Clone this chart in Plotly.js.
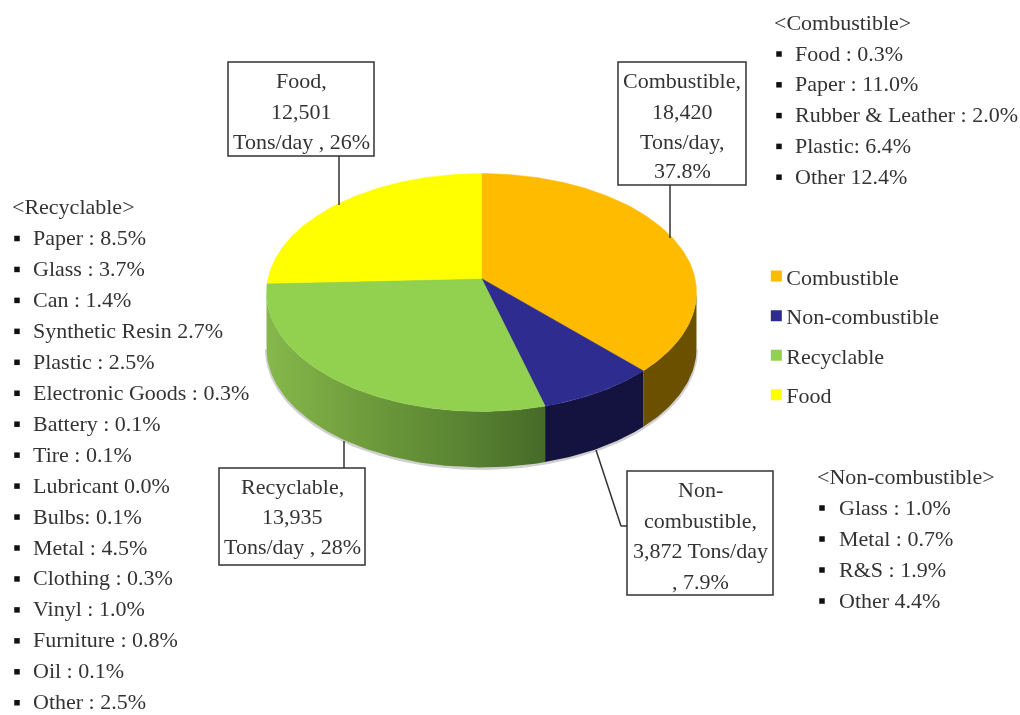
<!DOCTYPE html>
<html><head><meta charset="utf-8">
<script src="https://cdn.plot.ly/plotly-3.0.1.min.js"></script>
<style>html,body{margin:0;padding:0;background:#fff}#g{width:1020px;height:715px;filter:blur(0.5px)}</style>
</head><body><div id="g"></div>
<script>
const categories = ['Combustible','Non-combustible','Recyclable','Food'];
const tonsPerDay = [18420,3872,13935,12501];
const topColors = ['#FFBB00','#2E2D8F','#92D050','#FFFF00'];
const combustibleItems = ['Food : 0.3%','Paper : 11.0%','Rubber &amp; Leather : 2.0%','Plastic: 6.4%','Other 12.4%'];
const nonCombustibleItems = ['Glass : 1.0%','Metal : 0.7%','R&amp;S : 1.9%','Other 4.4%'];
const recyclableItems = ['Paper : 8.5%','Glass : 3.7%','Can : 1.4%','Synthetic Resin 2.7%','Plastic : 2.5%','Electronic Goods : 0.3%','Battery : 0.1%','Tire : 0.1%','Lubricant 0.0%','Bulbs: 0.1%','Metal : 4.5%','Clothing : 0.3%','Vinyl : 1.0%','Furniture : 0.8%','Oil : 0.1%','Other : 2.5%'];
const calloutLines = [
  ['Combustible,','18,420','Tons/day,','37.8%'],
  ['Non-','combustible,','3,872 Tons/day',', 7.9%'],
  ['Recyclable,','13,935','Tons/day , 28%'],
  ['Food,','12,501','Tons/day , 26%']
];

const FONT='"Liberation Serif","Times New Roman",serif', INK='#333333', FS=22;
// perspective projection of the pie disc
const CX=481.5, CY=278.5, B=213.5, A=117.3, K=0.1176, DEPTH=56;
function proj(deg){const r=deg*Math.PI/180,X=Math.sin(r),Y=Math.cos(r),w=1+K*Y;return [CX+B*X/w,CY-A*Y/w];}
function arc(a,b){const n=Math.max(2,Math.ceil(Math.abs(b-a)));const p=[];for(let i=0;i<=n;i++)p.push(proj(a+(b-a)*i/n));return p;}
const total=tonsPerDay.reduce((s,v)=>s+v,0);
let acc=0; const angles=tonsPerDay.map(v=>{const s=acc/total*360;acc+=v;return [s,acc/total*360];});
const data=[];
// side walls
const VIS_A=96.8, VIS_B=263.2;
const shadow=arc(VIS_A,VIS_B).map(p=>[p[0],p[1]+DEPTH+1]);
data.push({type:'scatter',mode:'lines',x:shadow.map(p=>p[0]),y:shadow.map(p=>p[1]),line:{width:3,color:'rgba(120,120,120,0.35)'},hoverinfo:'skip',showlegend:false});
const wallFill=[
 {fillcolor:'#6B5000'},
 {fillcolor:'#14123F'},
 {fillcolor:'#7FAE45',fillgradient:{type:'horizontal',start:266,stop:545,colorscale:[[0,'#86B84B'],[0.35,'#6F9C3C'],[0.7,'#5A8432'],[1,'#466A28']]}},
 null];
angles.forEach(([s,e],i)=>{
  const a=Math.max(s,VIS_A), b=Math.min(e,VIS_B);
  if(b<=a||!wallFill[i])return;
  const t=arc(a,b), bot=t.slice().reverse().map(p=>[p[0],p[1]+DEPTH]);
  const all=t.concat(bot);all.push(t[0]);
  data.push(Object.assign({type:'scatter',mode:'lines',x:all.map(p=>p[0]),y:all.map(p=>p[1]),fill:'toself',line:{width:0},hoverinfo:'skip',showlegend:false},wallFill[i]));
});
// top wedges
angles.forEach(([s,e],i)=>{
  const t=arc(s,e); const all=[[CX,CY]].concat(t,[[CX,CY]]);
  data.push({type:'scatter',mode:'lines',name:categories[i],x:all.map(p=>p[0]),y:all.map(p=>p[1]),fill:'toself',fillcolor:topColors[i],line:{width:0.5,color:topColors[i]},showlegend:false,hoverinfo:'name'});
});
// legend entries
categories.forEach((c,i)=>data.push({type:'scatter',mode:'markers',name:c,x:[null],y:[null],legendgroup:c,marker:{symbol:'square',size:11,color:topColors[i]}}));

const annotations=[], shapes=[], bx=[], by=[];
function txt(t,x,y,anchor){annotations.push({text:t,x,y,xref:'x',yref:'y',xanchor:anchor||'left',yanchor:'middle',showarrow:false,borderpad:0,font:{family:FONT,size:FS,color:INK}});}
function list(title,tx,ty,items,bulletX,textX,y0,step){
  txt('&lt;'+title+'&gt;',tx-1,ty-1);
  items.forEach((s,i)=>{txt(s,textX-1,y0+i*step-1);bx.push(bulletX);by.push(y0+i*step);});
}
list('Combustible',774,23,combustibleItems,779,795,54,30.8);
list('Non-combustible',817,477,nonCombustibleItems,822,839,508,31);
list('Recyclable',12,207,recyclableItems,17,33,238.5,30.95);
data.push({type:'scatter',mode:'markers',x:bx,y:by,marker:{symbol:'square',size:5.5,color:'#111'},showlegend:false,hoverinfo:'skip'});

// callouts: [x0,y0,x1,y1] boxes and leader lines
const boxes=[[618,62,746,185],[627,471,773,595],[219,468,365,565],[228,62,374,156]];
const leaders=[[[670,185],[670,238]],[[596,450],[621,526],[627,526]],[[344,441],[344,468]],[[339,156],[339,205]]];
const lineY=[[81,112,142,171],[490,521,551,582],[487,517,547],[81,112,142]];
boxes.forEach((b,i)=>{
  leaders[i].slice(1).forEach((p,j)=>{const q=leaders[i][j];shapes.push({type:'line',xref:'x',yref:'y',x0:q[0],y0:q[1],x1:p[0],y1:p[1],line:{color:'#333',width:1.5},layer:'above'});});
  shapes.push({type:'rect',xref:'x',yref:'y',x0:b[0],y0:b[1],x1:b[2],y1:b[3],line:{color:'#333',width:1.5},fillcolor:'#fff',layer:'above'});
  calloutLines[i].forEach((t,j)=>txt(t,(b[0]+b[2])/2,lineY[i][j]-1,'center'));
});

const layout={width:1020,height:715,margin:{l:0,r:0,t:0,b:0},paper_bgcolor:'#fff',plot_bgcolor:'#fff',
  xaxis:{range:[0,1020],visible:false,fixedrange:true},yaxis:{range:[715,0],visible:false,fixedrange:true},
  legend:{x:0.7415,y:0.643,xanchor:'left',yanchor:'top',font:{family:FONT,size:FS,color:INK},tracegroupgap:8,itemclick:false,itemdoubleclick:false,bgcolor:'rgba(0,0,0,0)'},
  annotations,shapes,hovermode:'closest'};
Plotly.newPlot('g',data,layout,{displayModeBar:false}).then(()=>{
  document.querySelectorAll('#g .legendtext').forEach(t=>t.setAttribute('x',30));
});
</script></body></html>
